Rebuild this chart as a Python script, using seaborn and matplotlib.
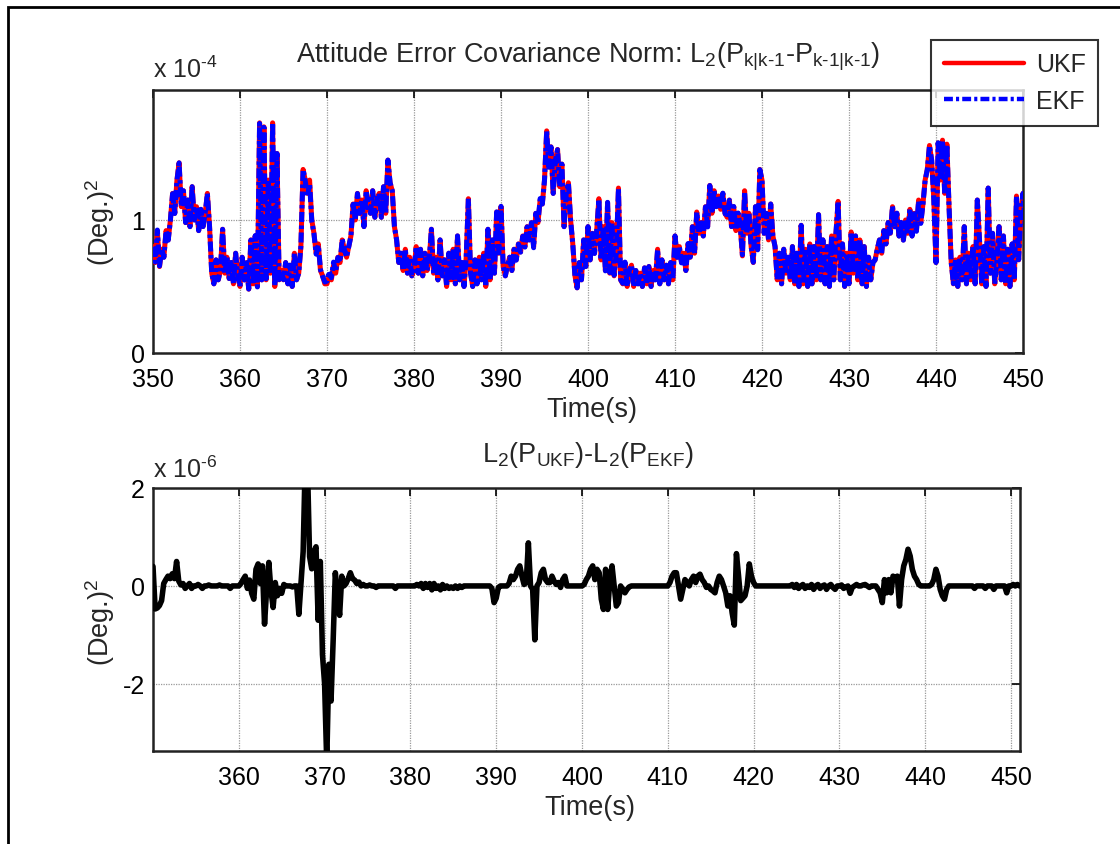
import numpy as np
import pandas as pd
import matplotlib
matplotlib.use("Agg")
import matplotlib.pyplot as plt
from matplotlib.lines import Line2D
from matplotlib.patches import Rectangle
import seaborn as sns

# ---- data -------------------------------------------------------------
# sample times (s), 0.25 s spacing from 350 to 451
t_start, t_step, n_samples = 350.0, 0.25, 405

# UKF covariance norm, units of 1e-4 (Deg.)^2, 20 samples per 5 s
ukf_norm = [
    0.80, 0.68, 0.92, 0.65, 0.78, 0.72, 0.92, 0.85, 1.00, 1.20, 1.05, 1.30, 1.43, 1.10, 1.22, 0.98, 1.15, 0.95, 1.25, 1.00,
    1.10, 0.92, 1.08, 0.95, 1.05, 1.20, 0.95, 0.60, 0.52, 0.70, 0.55, 0.62, 0.93, 0.60, 0.72, 0.56, 0.68, 0.52, 0.75, 0.58,
    0.50, 0.72, 0.55, 0.68, 0.48, 0.85, 0.52, 0.88, 0.50, 1.73, 0.55, 1.70, 0.55, 1.30, 0.60, 1.73, 0.50, 1.50, 0.55, 0.62,
    0.55, 0.68, 0.52, 0.66, 0.50, 0.75, 0.55, 0.60, 0.80, 1.38, 1.30, 1.20, 1.30, 1.00, 0.90, 0.75, 0.82, 0.62, 0.58, 0.52,
    0.52, 0.58, 0.55, 0.66, 0.60, 0.72, 0.68, 0.85, 0.78, 0.72, 0.80, 0.88, 1.12, 1.00, 1.20, 1.05, 1.15, 0.95, 1.22, 1.10,
    1.05, 1.22, 1.02, 1.15, 1.20, 1.02, 1.25, 1.05, 1.45, 1.28, 1.22, 0.95, 0.85, 0.68, 0.75, 0.62, 0.78, 0.60, 0.72, 0.58,
    0.62, 0.80, 0.60, 0.78, 0.58, 0.75, 0.62, 0.70, 0.93, 0.60, 0.72, 0.55, 0.85, 0.58, 0.70, 0.50, 0.75, 0.55, 0.78, 0.52,
    0.88, 0.55, 0.68, 0.50, 0.72, 1.16, 0.60, 0.50, 0.70, 0.52, 0.72, 0.55, 0.75, 0.50, 0.93, 0.55, 0.85, 0.60, 1.06, 0.75,
    1.10, 0.65, 0.58, 0.66, 0.72, 0.62, 0.78, 0.70, 0.82, 0.76, 0.88, 0.80, 0.95, 0.85, 0.98, 0.80, 1.05, 0.98, 1.15, 1.12,
    1.30, 1.67, 1.40, 1.55, 1.20, 1.45, 1.53, 1.25, 1.42, 0.95, 1.20, 1.28, 1.00, 0.82, 0.58, 0.49, 0.68, 0.55, 0.85, 0.65,
    0.95, 0.70, 0.90, 0.75, 0.92, 1.16, 0.70, 0.95, 0.62, 1.13, 0.60, 0.98, 0.58, 0.75, 1.24, 0.55, 0.52, 0.68, 0.50, 0.62,
    0.66, 0.50, 0.62, 0.52, 0.60, 0.50, 0.64, 0.52, 0.65, 0.50, 0.62, 0.55, 0.78, 0.52, 0.70, 0.55, 0.66, 0.52, 0.68, 0.55,
    0.88, 0.72, 0.80, 0.68, 0.75, 0.62, 0.82, 0.72, 0.95, 0.75, 1.06, 0.90, 0.98, 0.88, 1.10, 0.95, 1.26, 1.05, 1.22, 1.10,
    1.18, 1.08, 1.20, 1.05, 1.02, 1.15, 0.95, 1.10, 0.92, 1.05, 0.95, 0.73, 1.22, 0.90, 1.05, 0.80, 0.68, 1.10, 0.78, 1.38,
    1.30, 0.90, 1.05, 0.85, 1.12, 0.88, 0.80, 0.55, 0.75, 0.52, 0.78, 0.60, 0.72, 0.55, 0.80, 0.52, 0.75, 0.50, 0.96, 0.52,
    0.78, 0.50, 0.82, 0.52, 0.80, 0.55, 1.04, 0.55, 0.85, 0.52, 0.80, 0.50, 0.88, 0.55, 0.90, 1.14, 0.55, 0.82, 0.50, 0.75,
    0.52, 0.91, 0.60, 0.88, 0.55, 0.85, 0.52, 0.80, 0.50, 0.72, 0.55, 0.68, 0.70, 0.78, 0.85, 0.75, 0.92, 0.82, 0.98, 0.90,
    1.10, 0.95, 1.05, 0.88, 0.98, 0.85, 1.00, 0.90, 1.08, 0.88, 1.05, 0.92, 1.15, 0.98, 1.12, 1.30, 1.38, 1.56, 1.45, 1.15,
    0.68, 1.58, 1.30, 1.60, 1.20, 1.57, 1.10, 0.68, 0.52, 0.70, 0.50, 0.72, 0.55, 0.95, 0.52, 0.75, 0.55, 0.80, 0.52, 1.15,
    0.85, 0.52, 0.80, 0.50, 1.24, 0.60, 0.90, 0.52, 0.70, 0.95, 0.55, 0.88, 0.52, 0.78, 0.50, 0.82, 0.55, 1.18, 0.70, 1.05,
    1.20, 0.95, 1.10, 0.90, 1.00,
]

# L2(P_UKF) - L2(P_EKF), units of 1e-6 (Deg.)^2
norm_diff = [
    0.40, -0.47, -0.45, -0.40, -0.30, 0.05, 0.13, 0.20, 0.15, 0.25, 0.15, 0.50, 0.10, 0.02, 0.05, -0.05, 0.00, 0.05, -0.05, 0.00,
    0.00, 0.03, 0.00, -0.05, 0.00, 0.00, 0.02, 0.00, 0.00, 0.00, 0.00, 0.02, 0.00, 0.00, 0.00, 0.00, -0.05, 0.00, 0.00, 0.00,
    0.00, 0.05, 0.13, 0.20, -0.05, 0.12, -0.15, -0.27, 0.34, 0.45, 0.05, 0.41, -0.78, -0.05, 0.48, -0.10, -0.44, 0.07, -0.20, -0.05,
    -0.15, 0.03, 0.00, 0.00, 0.00, -0.02, 0.00, 0.00, -0.58, 0.05, 0.70, 2.60, 2.50, 0.60, 0.35, 0.70, 0.80, -0.70, 0.50, -1.40,
    -2.00, -3.60, -1.60, -2.35, -1.10, 0.27, -0.20, -0.60, 0.20, 0.00, 0.05, 0.15, 0.27, 0.15, 0.12, 0.05, 0.08, 0.00, 0.03, 0.00,
    0.00, 0.02, 0.00, 0.00, -0.03, 0.00, 0.00, 0.00, 0.00, 0.00, 0.00, 0.00, 0.00, -0.05, 0.00, 0.00, 0.00, 0.00, 0.00, 0.00,
    0.00, 0.00, 0.00, 0.03, 0.00, 0.05, -0.05, 0.05, -0.03, 0.05, -0.08, 0.05, -0.05, 0.00, -0.08, 0.03, -0.05, 0.00, -0.05, -0.02,
    -0.05, 0.00, -0.05, 0.00, -0.03, 0.00, 0.00, 0.00, 0.00, 0.00, 0.00, 0.00, 0.00, 0.00, 0.00, 0.00, 0.00, 0.00, -0.05, -0.34,
    -0.25, -0.03, 0.00, 0.00, 0.00, 0.00, 0.05, 0.20, 0.13, 0.20, 0.34, 0.41, 0.20, 0.03, 0.07, 0.88, 0.00, -0.07, -1.10, 0.00,
    0.07, 0.27, 0.34, 0.13, 0.07, 0.07, 0.20, 0.10, 0.03, 0.07, -0.03, 0.13, 0.20, 0.00, 0.00, 0.00, 0.00, 0.00, 0.00, 0.00,
    0.00, 0.03, 0.13, 0.20, 0.34, 0.41, 0.13, 0.34, 0.27, -0.27, -0.48, 0.34, -0.48, 0.13, 0.41, 0.00, -0.41, -0.34, 0.00, -0.07,
    -0.14, -0.07, -0.02, 0.00, 0.00, 0.00, 0.00, 0.00, 0.00, 0.00, 0.00, 0.00, 0.00, 0.00, 0.00, 0.00, 0.00, 0.00, 0.00, 0.00,
    0.00, 0.07, 0.20, 0.27, 0.27, 0.00, -0.27, -0.07, 0.13, 0.07, 0.00, 0.13, 0.20, 0.07, 0.20, 0.24, 0.13, 0.07, -0.03, 0.00,
    -0.07, -0.10, -0.14, 0.07, 0.20, 0.13, 0.00, -0.14, -0.41, -0.20, -0.55, -0.80, 0.66, 0.20, -0.30, -0.25, -0.20, 0.00, 0.45, 0.20,
    0.07, 0.00, 0.00, 0.00, 0.00, 0.00, 0.00, 0.00, 0.00, 0.00, 0.00, 0.00, 0.00, 0.00, 0.00, 0.00, 0.00, 0.00, 0.03, -0.03,
    0.03, -0.05, 0.00, 0.03, -0.05, 0.00, -0.03, 0.03, -0.07, 0.00, 0.03, -0.05, 0.00, 0.02, -0.07, 0.00, 0.03, -0.03, -0.07, 0.00,
    0.00, 0.02, -0.05, -0.02, 0.00, -0.15, -0.03, 0.00, 0.03, 0.00, 0.00, 0.02, 0.03, 0.00, -0.03, 0.00, 0.00, 0.00, -0.07, -0.14,
    -0.34, 0.13, -0.14, 0.13, -0.14, 0.20, 0.13, 0.20, -0.41, 0.13, 0.41, 0.54, 0.75, 0.61, 0.34, 0.20, 0.13, 0.03, 0.00, 0.00,
    0.00, 0.00, 0.00, 0.03, 0.13, 0.34, 0.20, -0.07, -0.20, -0.27, -0.07, 0.00, 0.00, 0.00, 0.00, 0.00, 0.00, 0.00, 0.00, 0.00,
    0.00, 0.00, 0.00, -0.05, 0.00, 0.00, 0.00, 0.00, -0.05, 0.00, 0.00, 0.00, -0.07, 0.00, 0.00, 0.00, 0.00, 0.00, -0.14, 0.00,
    0.00, 0.03, 0.00, 0.03, 0.00,
]

top_xticks = [350, 360, 370, 380, 390, 400, 410, 420, 430, 440, 450]
top_yticks = [0, 1]
bottom_xticks = [360, 370, 380, 390, 400, 410, 420, 430, 440, 450]
bottom_yticks = [-2, 0, 2]

# ---- frame -------------------------------------------------------------
time = t_start + t_step * np.arange(n_samples)
ukf = np.array(ukf_norm)
diff = np.array(norm_diff)
ekf = ukf - diff * 1e-2          # diff is in 1e-6, norms in 1e-4
df = pd.DataFrame({"time": time, "UKF": ukf, "EKF": ekf, "diff": diff})

# ---- style -------------------------------------------------------------
sns.set_theme(style="white")
plt.rcParams["font.family"] = ["Liberation Sans", "DejaVu Sans"]
plt.rcParams["mathtext.fontset"] = "custom"
plt.rcParams["mathtext.rm"] = "Liberation Sans"
plt.rcParams["mathtext.it"] = "Liberation Sans"
plt.rcParams["axes.unicode_minus"] = False
FS = 18          # tick labels, legend, exponent notes
FS_LABEL = 19.5  # titles and axis labels
DASHDOT = (2.0, 0.7, 0.7, 0.7)

W, H = 1120, 845
fig = plt.figure(figsize=(W / 100, H / 100), dpi=100)
fig.patch.set_facecolor("white")


def fx(px):
    return px / W


def fy(py):
    return 1 - py / H


ax1 = fig.add_axes([fx(153), fy(354), fx(1023) - fx(153), fy(91) - fy(354)])
ax2 = fig.add_axes([fx(153), fy(752), fx(1020) - fx(153), fy(489) - fy(752)])

sns.lineplot(data=df, x="time", y="UKF", ax=ax1, color="#ff0000", lw=3.6,
             estimator=None, errorbar=None, zorder=3)
sns.lineplot(data=df, x="time", y="EKF", ax=ax1, color="#0000ff", lw=3.6,
             estimator=None, errorbar=None, zorder=4)
ekf_line = ax1.lines[-1]
ekf_line.set_dashes(DASHDOT)
ekf_line.set_dash_capstyle("butt")

sns.lineplot(data=df, x="time", y="diff", ax=ax2, color="black", lw=4.0,
             estimator=None, errorbar=None, zorder=3)

ax1.set_xlim(350, 450)
ax1.set_ylim(0, 1.977)
ax1.set_xticks(top_xticks)
ax1.set_yticks(top_yticks)

ax2.set_xlim(350, 451.05)
ax2.set_ylim(-3.37, 2)
ax2.set_xticks(bottom_xticks)
ax2.set_yticks(bottom_yticks)

for ax in (ax1, ax2):
    ax.set_xlabel("")
    ax.set_ylabel("")
    ax.grid(True, color="#9a9a9a", linestyle=(0, (1, 1)), linewidth=0.9)
    ax.set_axisbelow(True)
    ax.tick_params(direction="in", length=6, width=1.2, top=True, right=True,
                   labelsize=FS, colors="black")
    ax.tick_params(axis="x", pad=10)
    ax.tick_params(axis="y", pad=6)
    for sp in ax.spines.values():
        sp.set_visible(True)
        sp.set_color("#222222")
        sp.set_linewidth(1.8)

# axis annotations
fig.text(fx(588), fy(57),
         r"Attitude Error Covariance Norm: L$_{\mathregular{2}}$(P$_{\text{k|k-1}}$-P$_{\text{k-1|k-1}}$)",
         ha="center", va="center", fontsize=FS_LABEL)
fig.text(fx(153), fy(70), r"x 10$^{\text{-4}}$", ha="left", va="center", fontsize=FS)
fig.text(fx(100), fy(222), r"(Deg.)$^{\mathregular{2}}$", ha="center", va="center",
         rotation=90, fontsize=FS_LABEL)
fig.text(fx(592), fy(410), "Time(s)", ha="center", va="center", fontsize=FS_LABEL)

fig.text(fx(588), fy(455), r"L$_{\mathregular{2}}$(P$_{\text{UKF}}$)-L$_{\mathregular{2}}$(P$_{\text{EKF}}$)",
         ha="center", va="center", fontsize=FS_LABEL)
fig.text(fx(153), fy(470), r"x 10$^{\text{-6}}$", ha="left", va="center", fontsize=FS)
fig.text(fx(100), fy(622), r"(Deg.)$^{\mathregular{2}}$", ha="center", va="center",
         rotation=90, fontsize=FS_LABEL)
fig.text(fx(590), fy(808), "Time(s)", ha="center", va="center", fontsize=FS_LABEL)

# legend
handles = [
    Line2D([], [], color="#ff0000", lw=3.2),
    Line2D([], [], color="#0000ff", lw=3.2, dashes=DASHDOT),
]
leg = fig.legend(handles, ["UKF", "EKF"], loc="upper left",
                 bbox_to_anchor=(fx(931), fy(41)), bbox_transform=fig.transFigure,
                 borderaxespad=0, fontsize=FS, frameon=True, fancybox=False,
                 handlelength=3.2, handletextpad=0.5, borderpad=0.5, labelspacing=0.5)
leg.get_frame().set_edgecolor("black")
leg.get_frame().set_linewidth(1.5)
leg.set_zorder(10)

# outer figure frame
fig.add_artist(Rectangle((fx(8), fy(880)), fx(1160) - fx(8), fy(8) - fy(880),
                         transform=fig.transFigure, fill=False,
                         edgecolor="black", linewidth=2.0))

fig.savefig("out.png", dpi=100, facecolor="white")
